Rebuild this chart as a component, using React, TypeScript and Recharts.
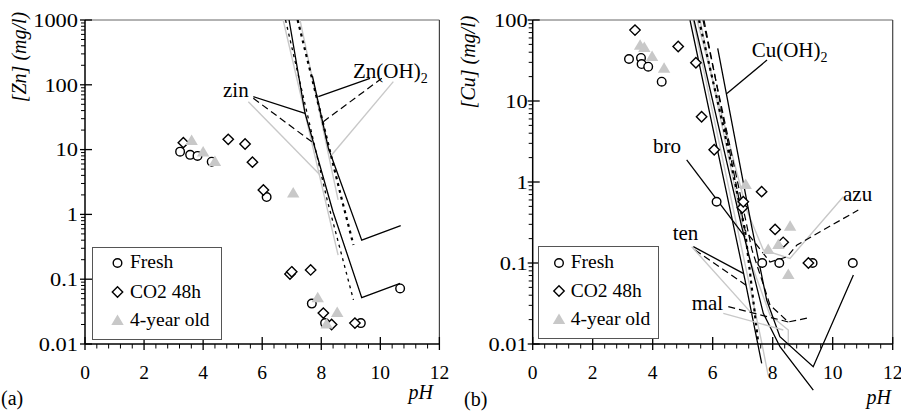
import React from "react"
import {
  ComposedChart,
  XAxis,
  YAxis,
  Line,
  Scatter,
  ReferenceLine,
  Legend,
} from "recharts"

type Pt = { x: number; y: number }
const FONT = "Liberation Serif, DejaVu Serif, serif"

// ---- axes ----
const phTicks = Array.from({ length: 31 }, (_, i) => +(i * 0.4).toFixed(1))
const phLabels = [0, 2, 4, 6, 8, 10, 12]
const znDecades = [0.01, 0.1, 1, 10, 100, 1000]
const cuDecades = [0.01, 0.1, 1, 10, 100]
const minorOf = (dec: number[]) =>
  dec.slice(0, -1).flatMap((d) => [2, 3, 4, 5, 6, 7, 8, 9].map((k) => k * d))
// the Cu curves run on below the x axis, so they sit on a taller log axis
const cuCurveDomain = [0.0025119, 100]

const seriesNames = ["Fresh", "CO2 48h", "4-year old"]

// ---- (a) Zn measurements ----
const znFresh: Pt[] = [
  { x: 3.22, y: 9.3 }, { x: 3.56, y: 8.3 }, { x: 3.81, y: 8.0 }, { x: 4.29, y: 6.5 },
  { x: 6.15, y: 1.85 }, { x: 7.68, y: 0.042 }, { x: 8.13, y: 0.021 },
  { x: 9.34, y: 0.021 }, { x: 10.67, y: 0.072 },
]
const znCo2: Pt[] = [
  { x: 3.33, y: 12.8 }, { x: 4.85, y: 14.4 }, { x: 5.42, y: 12.2 }, { x: 5.67, y: 6.4 },
  { x: 6.04, y: 2.38 }, { x: 6.94, y: 0.12 }, { x: 7.0, y: 0.13 }, { x: 7.64, y: 0.139 },
  { x: 8.07, y: 0.03 }, { x: 8.35, y: 0.02 }, { x: 9.14, y: 0.021 },
]
const znOld: Pt[] = [
  { x: 3.61, y: 13.6 }, { x: 4.0, y: 9.0 }, { x: 4.4, y: 6.45 }, { x: 7.05, y: 2.1 },
  { x: 7.88, y: 0.051 }, { x: 8.18, y: 0.02 }, { x: 8.54, y: 0.03 },
]

// ---- (a) Zn solubility curves ----
const zinSolid: Pt[] = [{ x: 6.91, y: 1000 }, { x: 7.45, y: 36.7 }, { x: 8.4, y: 1.09 }, { x: 9.37, y: 0.052 }, { x: 10.67, y: 0.0865 }]
const znohSolid: Pt[] = [{ x: 7.7, y: 137 }, { x: 8.24, y: 10.6 }, { x: 9.37, y: 0.4 }, { x: 10.69, y: 0.67 }]
const zinDot: Pt[] = [{ x: 6.79, y: 1000 }, { x: 8.2, y: 1.67 }, { x: 9.09, y: 0.048 }]
const znohDot: Pt[] = [{ x: 7.2, y: 1000 }, { x: 8.7, y: 1.67 }, { x: 9.09, y: 0.337 }]
const zinGray: Pt[] = [{ x: 6.71, y: 1000 }, { x: 8.57, y: 0.236 }]
const znohGray: Pt[] = [{ x: 7.28, y: 1000 }, { x: 8.57, y: 1.67 }]
// leaders
const zinLeadSolid: Pt[] = [{ x: 5.7, y: 65.5 }, { x: 7.45, y: 36.3 }]
const zinLeadDash: Pt[] = [{ x: 5.7, y: 61.9 }, { x: 7.68, y: 13.2 }]
const zinLeadGray: Pt[] = [{ x: 5.53, y: 54.9 }, { x: 7.96, y: 4.06 }]
const znohLeadSolid: Pt[] = [{ x: 9.65, y: 126 }, { x: 7.9, y: 65.5 }]
const znohLeadDash: Pt[] = [{ x: 10.05, y: 126 }, { x: 8.07, y: 27 }]
const znohLeadGray: Pt[] = [{ x: 10.44, y: 112 }, { x: 8.35, y: 8.26 }]

// ---- (b) Cu measurements ----
const cuFresh: Pt[] = [
  { x: 3.21, y: 33 }, { x: 3.61, y: 34 }, { x: 3.63, y: 28.6 }, { x: 3.85, y: 26.5 },
  { x: 4.3, y: 17.3 }, { x: 6.13, y: 0.57 }, { x: 7.65, y: 0.1 }, { x: 8.22, y: 0.1 },
  { x: 9.33, y: 0.1 }, { x: 10.67, y: 0.1 },
]
const cuCo2: Pt[] = [
  { x: 3.41, y: 75 }, { x: 4.85, y: 47 }, { x: 5.44, y: 29.7 }, { x: 5.63, y: 6.4 },
  { x: 6.05, y: 2.5 }, { x: 6.99, y: 0.48 }, { x: 7.02, y: 0.57 }, { x: 7.63, y: 0.76 },
  { x: 8.08, y: 0.26 }, { x: 8.35, y: 0.18 }, { x: 9.19, y: 0.1 },
]
const cuOld: Pt[] = [
  { x: 3.58, y: 48 }, { x: 3.72, y: 45 }, { x: 3.98, y: 35 }, { x: 4.38, y: 25 },
  { x: 7.1, y: 0.92 }, { x: 7.85, y: 0.145 }, { x: 8.19, y: 0.167 }, { x: 8.52, y: 0.071 },
  { x: 8.58, y: 0.28 },
]

// ---- (b) Cu solubility curves ----
const cuohSolid: Pt[] = [{ x: 6.167, y: 44.7 }, { x: 7.3, y: 0.281 }, { x: 7.8, y: 0.0349 }, { x: 8.24, y: 0.0123 }, { x: 9.35, y: 0.00525 }, { x: 10.69, y: 0.0711 }]
const cuSolidA: Pt[] = [{ x: 5.243, y: 100 }, { x: 7.077, y: 0.0616 }, { x: 7.633, y: 0.00578 }]
const cuSolidB: Pt[] = [{ x: 5.377, y: 100 }, { x: 6.967, y: 0.281 }, { x: 7.687, y: 0.0239 }, { x: 8.243, y: 0.00927 }, { x: 9.353, y: 0.0027 }]
const cuGrayLong: Pt[] = [{ x: 5.343, y: 100 }, { x: 7.6, y: 0.012 }, { x: 7.85, y: 0.0041 }]
const cuDot: Pt[] = [{ x: 5.543, y: 100 }, { x: 6.343, y: 5.06 }, { x: 7.077, y: 0.255 }, { x: 7.52, y: 0.0102 }]
const malDash: Pt[] = [{ x: 5.677, y: 100 }, { x: 6.743, y: 1.41 }, { x: 7.31, y: 0.145 }, { x: 7.91, y: 0.0303 }, { x: 8.52, y: 0.0187 }, { x: 9.177, y: 0.021 }]
const azuDash: Pt[] = [{ x: 5.71, y: 100 }, { x: 7.077, y: 0.255 }, { x: 7.91, y: 0.103 }, { x: 8.477, y: 0.119 }, { x: 8.81, y: 0.167 }, { x: 10.853, y: 0.451 }]
const azuGray: Pt[] = [{ x: 5.477, y: 100 }, { x: 7.133, y: 0.451 }, { x: 7.687, y: 0.145 }, { x: 8.577, y: 0.114 }, { x: 10.353, y: 0.659 }]
const malGray: Pt[] = [{ x: 5.577, y: 100 }, { x: 7.243, y: 0.109 }, { x: 7.91, y: 0.0228 }, { x: 8.52, y: 0.0149 }, { x: 8.52, y: 0.0094 }]
// leaders
const cuohLead: Pt[] = [{ x: 7.81, y: 32 }, { x: 6.473, y: 12.4 }]
const broLead: Pt[] = [{ x: 5.133, y: 1.87 }, { x: 7.077, y: 0.21 }]
const tenLeadSolid: Pt[] = [{ x: 5.353, y: 0.159 }, { x: 7.02, y: 0.0746 }]
const tenLeadDash: Pt[] = [{ x: 5.41, y: 0.1445 }, { x: 7.187, y: 0.051 }]
const tenLeadGray: Pt[] = [{ x: 5.3, y: 0.159 }, { x: 7.3, y: 0.0239 }]
const malLeadDash: Pt[] = [{ x: 6.52, y: 0.0289 }, { x: 8.52, y: 0.0187 }]
const malLeadGray: Pt[] = [{ x: 6.353, y: 0.0239 }, { x: 8.353, y: 0.0149 }]

const solid = { stroke: "#000", strokeWidth: 1.3 }
const dotted = { stroke: "#000", strokeWidth: 2.2, strokeDasharray: "3 4" }
const dotThin = { stroke: "#000", strokeWidth: 1.3, strokeDasharray: "3 4" }
const dashed = { stroke: "#000", strokeWidth: 1.2, strokeDasharray: "7 4" }
const gray = { stroke: "#c8c8c8", strokeWidth: 1.4 }

type Curve = { data: Pt[]; style: Record<string, any> }

const znCurves: Curve[] = [
  { data: zinGray, style: gray }, { data: znohGray, style: gray },
  { data: zinDot, style: dotThin }, { data: znohDot, style: dotted },
  { data: zinSolid, style: solid }, { data: znohSolid, style: solid },
  { data: zinLeadSolid, style: solid }, { data: zinLeadDash, style: dashed }, { data: zinLeadGray, style: gray },
  { data: znohLeadSolid, style: solid }, { data: znohLeadDash, style: dashed }, { data: znohLeadGray, style: gray },
]
const cuCurves: Curve[] = [
  { data: cuGrayLong, style: gray }, { data: azuGray, style: gray }, { data: malGray, style: gray },
  { data: cuDot, style: dotted }, { data: malDash, style: dashed }, { data: azuDash, style: dashed },
  { data: cuSolidA, style: solid }, { data: cuSolidB, style: solid }, { data: cuohSolid, style: solid },
  { data: cuohLead, style: solid }, { data: broLead, style: solid },
  { data: tenLeadSolid, style: solid }, { data: tenLeadDash, style: dashed }, { data: tenLeadGray, style: gray },
  { data: malLeadDash, style: dashed }, { data: malLeadGray, style: gray },
]

const Circle = (p: any) => (
  <circle cx={p.cx} cy={p.cy} r={4.3} fill="#fff" stroke="#000" strokeWidth={1.4} />
)
const Diamond = (p: any) => {
  const s = 5.2
  return (
    <polygon
      points={`${p.cx},${p.cy - s} ${p.cx + s},${p.cy} ${p.cx},${p.cy + s} ${p.cx - s},${p.cy}`}
      fill="#fff" stroke="#000" strokeWidth={1.4}
    />
  )
}
const Tri = (p: any) => (
  <polygon
    points={`${p.cx},${p.cy - 6.5} ${p.cx + 6.2},${p.cy + 4} ${p.cx - 6.2},${p.cy + 4}`}
    fill="#c8c8c8"
  />
)

const XTick = (props: any) => {
  const { x, y, payload } = props
  const v = payload.value
  const major = phLabels.includes(v)
  return (
    <g>
      {major ? (
        <line x1={x} x2={x} y1={y - 7} y2={y + 6} stroke="#000" strokeWidth={1.3} />
      ) : (
        <line x1={x} x2={x} y1={y} y2={y + 4.5} stroke="#000" strokeWidth={1} />
      )}
      {major && (
        <text x={x} y={y + 35} textAnchor="middle" style={{ fontFamily: FONT, fontSize: 19.5 }} fill="#000">
          {v}
        </text>
      )}
    </g>
  )
}

const makeYTick = (majors: number[], gap: number) => (props: any) => {
  const { x, y, payload } = props
  const v = payload.value
  const major = majors.includes(v)
  return (
    <g>
      {major ? (
        <line x1={x - 5} x2={x + 7} y1={y} y2={y} stroke="#000" strokeWidth={1.3} />
      ) : (
        <line x1={x - 4} x2={x} y1={y} y2={y} stroke="#000" strokeWidth={1} />
      )}
      {major && (
        <text
          transform={`translate(${x - gap},${y}) scale(1.15,1)`}
          dy="0.35em" textAnchor="end" style={{ fontFamily: FONT, fontSize: 19.5 }} fill="#000"
        >
          {String(v)}
        </text>
      )}
    </g>
  )
}

const legendContent = (w: number, cx: number, tx: number, rows: number[]) => () => (
  <svg width={w} height={93} style={{ display: "block" }}>
    <rect x={0.5} y={0.5} width={w - 1} height={92} fill="#fff" stroke="#555" strokeWidth={1} />
    <Circle cx={cx} cy={rows[0] - 5} />
    <Diamond cx={cx} cy={rows[1] - 6} />
    <Tri cx={cx} cy={rows[2] - 5} />
    {seriesNames.map((n, i) => (
      <text key={n} x={tx} y={rows[i]} style={{ fontFamily: FONT, fontSize: 19.5 }} fill="#000">
        {n}
      </text>
    ))}
  </svg>
)

const curveLines = (curves: Curve[]) =>
  curves.map((c, i) => (
    <Line
      key={i} data={c.data} dataKey="y" type="linear" dot={false} activeDot={false}
      legendType="none" isAnimationActive={false} {...c.style}
    />
  ))

type PanelProps = {
  width: number
  yWidth: number
  right: number
  decades: number[]
  curves: Curve[]
  fresh: Pt[]
  co2: Pt[]
  old: Pt[]
  gap: number
  legend: { left: number; top: number; w: number; cx: number; tx: number; rows: number[] }
}

const Panel = ({ width, yWidth, right, decades, curves, fresh, co2, old, gap, legend }: PanelProps) => {
  const yTicks = [...decades, ...minorOf(decades)]
  const top = decades[decades.length - 1]
  return (
    <ComposedChart width={width} height={412} margin={{ top: 20, right, bottom: 38, left: 0 }}>
      <XAxis
        type="number" dataKey="x" domain={[0, 12]} allowDataOverflow ticks={phTicks} interval={0}
        height={30} tickSize={0} tickMargin={0} tickLine={false} tick={<XTick />}
        axisLine={{ stroke: "#000", strokeWidth: 1.5 }}
      />
      <YAxis
        type="number" dataKey="y" scale="log" domain={[0.01, top]} allowDataOverflow ticks={yTicks}
        interval={0} width={yWidth} tickSize={0} tickMargin={0} tickLine={false}
        tick={makeYTick(decades, gap)} axisLine={{ stroke: "#000", strokeWidth: 1.5 }}
      />
      <ReferenceLine y={top} stroke="#666" strokeWidth={1} />
      <ReferenceLine x={12} stroke="#444" strokeWidth={1.2} />
      {curveLines(curves)}
      <Scatter name={seriesNames[0]} data={fresh} shape={Circle} isAnimationActive={false} />
      <Scatter name={seriesNames[1]} data={co2} shape={Diamond} isAnimationActive={false} />
      <Scatter name={seriesNames[2]} data={old} shape={Tri} isAnimationActive={false} />
      <Legend
        layout="vertical" align="center" verticalAlign="middle"
        content={legendContent(legend.w, legend.cx, legend.tx, legend.rows)}
        wrapperStyle={{ left: legend.left, top: legend.top, width: legend.w, height: 93 }}
      />
    </ComposedChart>
  )
}

// Cu curves: same pH scale and 81 px per decade as panel (b), but the plot runs 0.6 decade lower
const CuCurveLayer = () => (
  <ComposedChart width={451} height={400} margin={{ top: 20, right: 8.3, bottom: 7.4, left: 82.7 }}>
    <XAxis hide type="number" dataKey="x" domain={[0, 12]} allowDataOverflow />
    <YAxis hide type="number" dataKey="y" scale="log" domain={cuCurveDomain} allowDataOverflow />
    {curveLines(cuCurves)}
  </ComposedChart>
)

const Sub2 = () => (
  <tspan dy={5} style={{ fontSize: 14 }}>2</tspan>
)

export default function App() {
  const t20 = { fontFamily: FONT, fontSize: 20 }
  const t21 = { fontFamily: FONT, fontSize: 21 }
  const it20 = { ...t20, fontStyle: "italic" as const }
  return (
    <div style={{ position: "absolute", left: 0, top: 0, width: 901, height: 412, background: "#fff", fontFamily: FONT }}>
      <div style={{ position: "absolute", left: 0, top: 0 }}>
        <Panel
          width={450} yWidth={85} right={10.6} decades={znDecades} curves={znCurves}
          fresh={znFresh} co2={znCo2} old={znOld} gap={7}
          legend={{ left: 92, top: 247, w: 130, cx: 25.5, tx: 38, rows: [21, 51, 79] }}
        />
      </div>
      <div style={{ position: "absolute", left: 450, top: 0 }}>
        <CuCurveLayer />
      </div>
      <div style={{ position: "absolute", left: 450, top: 0 }}>
        <Panel
          width={451} yWidth={82.7} right={8.3} decades={cuDecades} curves={[]}
          fresh={cuFresh} co2={cuCo2} old={cuOld} gap={5}
          legend={{ left: 88, top: 246, w: 121, cx: 21, tx: 32.7, rows: [22, 51, 79] }}
        />
      </div>
      <svg width={901} height={412} style={{ position: "absolute", left: 0, top: 0, pointerEvents: "none" }}>
        <text transform="translate(19,57) rotate(-90)" textAnchor="middle" dy="0.35em" style={it20} fill="#000">
          [Zn] (mg/l)
        </text>
        <text transform="translate(468,62) rotate(-90)" textAnchor="middle" dy="0.35em" style={it20} fill="#000">
          [Cu] (mg/l)
        </text>
        <text x={433} y={399} textAnchor="end" style={it20} fill="#000">pH</text>
        <text x={891} y={404} textAnchor="end" style={it20} fill="#000">pH</text>
        <text x={1} y={405} style={t20} fill="#000">(a)</text>
        <text x={464} y={406} style={t20} fill="#000">(b)</text>
        <text x={223} y={97} style={t21} fill="#000">zin</text>
        <text x={353} y={78} style={t21} fill="#000">Zn(OH)<Sub2 /></text>
        <text x={751.7} y={57} style={t21} fill="#000">Cu(OH)<Sub2 /></text>
        <text x={653} y={153} style={t21} fill="#000">bro</text>
        <text x={843} y={201} style={t21} fill="#000">azu</text>
        <text x={672.7} y={240} style={t21} fill="#000">ten</text>
        <text x={691.7} y={310} style={t21} fill="#000">mal</text>
      </svg>
    </div>
  )
}
